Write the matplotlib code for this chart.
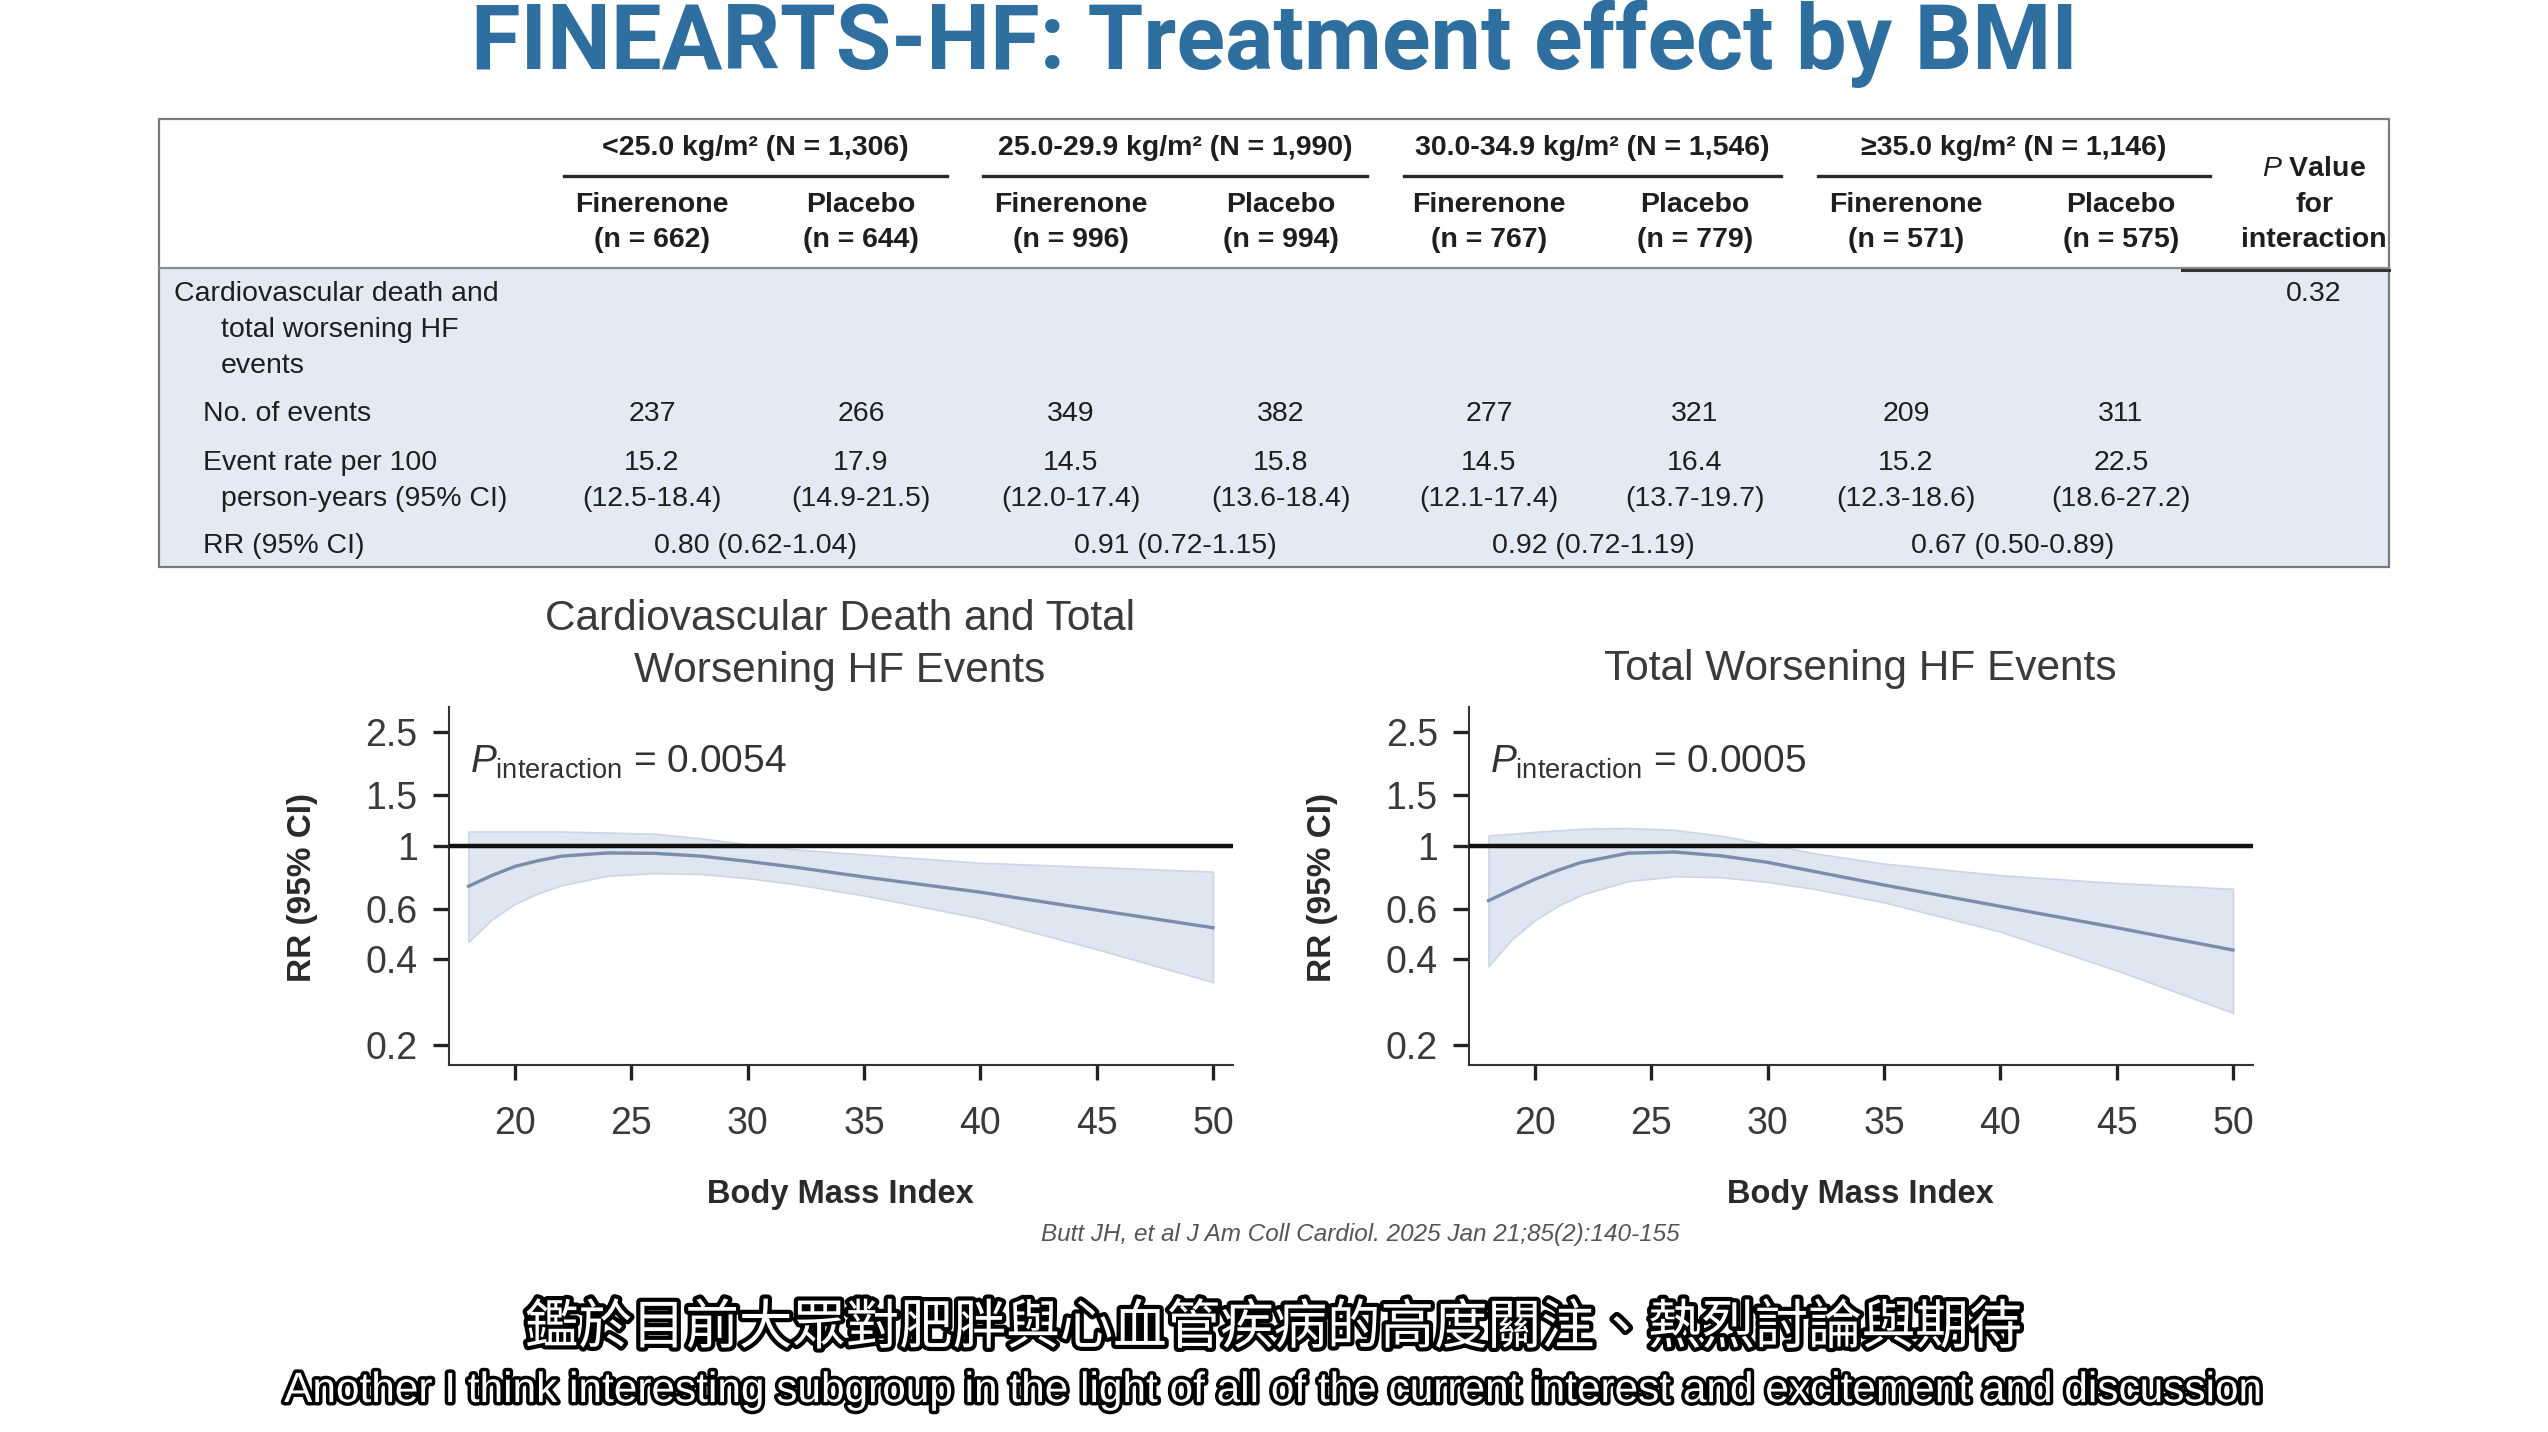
import matplotlib
matplotlib.use("Agg")
import matplotlib.pyplot as plt
import matplotlib.patheffects as pe
from matplotlib import font_manager
from matplotlib.patches import Rectangle

W, H = 2548, 1432

fonts = {f.name for f in font_manager.fontManager.ttflist}
NARROW = 'Liberation Sans Narrow' if 'Liberation Sans Narrow' in fonts else 'Liberation Sans'

plt.rcParams['font.family'] = [NARROW, 'DejaVu Sans']
plt.rcParams['mathtext.fontset'] = 'custom'
plt.rcParams['mathtext.rm'] = NARROW
plt.rcParams['mathtext.it'] = NARROW + ':italic'

# ---- table data ----
group_labels = ['<25.0 kg/m² (N = 1,306)', '25.0-29.9 kg/m² (N = 1,990)',
                '30.0-34.9 kg/m² (N = 1,546)', '≥35.0 kg/m² (N = 1,146)']
arm_names = ['Finerenone', 'Placebo'] * 4
arm_n = [662, 644, 996, 994, 767, 779, 571, 575]
n_events = [237, 266, 349, 382, 277, 321, 209, 311]
event_rate = [15.2, 17.9, 14.5, 15.8, 14.5, 16.4, 15.2, 22.5]
rate_ci = ['12.5-18.4', '14.9-21.5', '12.0-17.4', '13.6-18.4',
           '12.1-17.4', '13.7-19.7', '12.3-18.6', '18.6-27.2']
rr_ci = ['0.80 (0.62-1.04)', '0.91 (0.72-1.15)', '0.92 (0.72-1.19)', '0.67 (0.50-0.89)']
p_table = '0.32'

# ---- spline curves (RR vs BMI) ----
bmi = [18, 19, 20, 21, 22, 24, 26, 28, 30, 32, 35, 40, 45, 50]
cv_rr = [0.72, 0.785, 0.845, 0.885, 0.918, 0.942, 0.939, 0.918, 0.88, 0.84, 0.776, 0.686, 0.594, 0.515]
cv_hi = [1.12, 1.12, 1.12, 1.12, 1.12, 1.11, 1.10, 1.06, 1.01, 0.97, 0.93, 0.87, 0.84, 0.81]
cv_lo = [0.46, 0.55, 0.625, 0.68, 0.726, 0.784, 0.80, 0.795, 0.768, 0.733, 0.668, 0.556, 0.433, 0.332]
hf_rr = [0.641, 0.70, 0.762, 0.82, 0.873, 0.94, 0.949, 0.92, 0.873, 0.811, 0.727, 0.612, 0.515, 0.43]
hf_hi = [1.086, 1.10, 1.117, 1.13, 1.145, 1.152, 1.135, 1.082, 1.01, 0.94, 0.864, 0.787, 0.739, 0.705]
hf_lo = [0.377, 0.469, 0.548, 0.615, 0.673, 0.75, 0.78, 0.774, 0.745, 0.705, 0.632, 0.499, 0.365, 0.259]
p_interaction = ['0.0054', '0.0005']
panel_titles = ['Cardiovascular Death and Total\nWorsening HF Events', 'Total Worsening HF Events']
y_ticks = [0.2, 0.4, 0.6, 1, 1.5, 2.5]
y_ticklabels = ['0.2', '0.4', '0.6', '1', '1.5', '2.5']
x_ticks = [20, 25, 30, 35, 40, 45, 50]

fig = plt.figure(figsize=(W / 100, H / 100), dpi=100)
bg = fig.add_axes([0, 0, 1, 1])
bg.set_xlim(0, W)
bg.set_ylim(H, 0)
bg.axis('off')

# title
bg.text(1274, 44, 'FINEARTS-HF: Treatment effect by BMI', ha='center', va='center',
        fontsize=65, fontweight='bold', color='#2f6fa0', family=['Roboto', 'DejaVu Sans'])

# ---- table ----
tx0, tx1, ty0, ty_sep, ty1 = 159, 2389, 119, 268, 567
bg.add_patch(Rectangle((tx0, ty_sep), tx1 - tx0, ty1 - ty_sep, facecolor='#e3eaf4', edgecolor='none'))
bg.add_patch(Rectangle((tx0, ty0), tx1 - tx0, ty1 - ty0, facecolor='none', edgecolor='#7a7a7a', lw=1.6))
bg.plot([tx0, tx1], [ty_sep, ty_sep], color='#8a8a8a', lw=1.6)
bg.plot([2182, tx1], [ty_sep + 2, ty_sep + 2], color='#333333', lw=2.2)

col_x = [652, 861, 1071, 1281, 1489, 1695, 1906, 2121]
grp_x = [756, 1175, 1593, 2013]
grp_span = [(564, 947), (983, 1367), (1404, 1781), (1818, 2210)]
p_x = 2314
tcol = '#1e1e1e'
fs = 20.5

for gx, (a, b), lab in zip(grp_x, grp_span, group_labels):
    bg.text((a + b) / 2, 148, lab, ha='center', va='center', fontsize=fs, fontweight='bold', color=tcol)
    bg.plot([a, b], [176, 176], color='#2a2a2a', lw=2.4)

for cx, name, n in zip(col_x, arm_names, arm_n):
    bg.text(cx, 205, name, ha='center', va='center', fontsize=fs, fontweight='bold', color=tcol)
    bg.text(cx, 240, f'(n = {n})', ha='center', va='center', fontsize=fs, fontweight='bold', color=tcol)

bg.text(p_x, 169, r'$\mathit{P}$ Value', ha='center', va='center', fontsize=fs, fontweight='bold', color=tcol)
bg.text(p_x, 205, 'for', ha='center', va='center', fontsize=fs, fontweight='bold', color=tcol)
bg.text(p_x, 240, 'interaction', ha='center', va='center', fontsize=fs, fontweight='bold', color=tcol)

bg.text(174, 294, 'Cardiovascular death and', ha='left', va='center', fontsize=fs, color=tcol)
bg.text(221, 330, 'total worsening HF', ha='left', va='center', fontsize=fs, color=tcol)
bg.text(221, 366, 'events', ha='left', va='center', fontsize=fs, color=tcol)
bg.text(p_x, 294, p_table, ha='center', va='center', fontsize=fs, color=tcol)
bg.text(203, 414, 'No. of events', ha='left', va='center', fontsize=fs, color=tcol)
bg.text(203, 463, 'Event rate per 100', ha='left', va='center', fontsize=fs, color=tcol)
bg.text(221, 499, 'person-years (95% CI)', ha='left', va='center', fontsize=fs, color=tcol)
bg.text(203, 546, 'RR (95% CI)', ha='left', va='center', fontsize=fs, color=tcol)

for cx, ne, er, ci in zip(col_x, n_events, event_rate, rate_ci):
    bg.text(cx, 414, str(ne), ha='center', va='center', fontsize=fs, color=tcol)
    bg.text(cx, 463, f'{er:.1f}', ha='center', va='center', fontsize=fs, color=tcol)
    bg.text(cx, 499, f'({ci})', ha='center', va='center', fontsize=fs, color=tcol)
for gx, r in zip(grp_x, rr_ci):
    bg.text(gx, 546, r, ha='center', va='center', fontsize=fs, color=tcol)

# ---- spline panels ----
panels = [(449, cv_rr, cv_lo, cv_hi), (1469, hf_rr, hf_lo, hf_hi)]
ax_top, ax_bot, ax_w = 707, 1065, 784
for i, (x0, mid, lo, hi) in enumerate(panels):
    ax = fig.add_axes([x0 / W, 1 - ax_bot / H, ax_w / W, (ax_bot - ax_top) / H])
    ax.set_facecolor('none')
    ax.fill_between(bmi, lo, hi, facecolor='#dfe5f1', edgecolor='#cdd5e4', lw=1.2, zorder=1)
    ax.plot(bmi, mid, color='#7a8daa', lw=2.4, zorder=2)
    ax.axhline(1, color='#111111', lw=3.2, zorder=3)
    ax.set_yscale('log')
    ax.set_ylim(0.17, 3.06)
    ax.set_xlim(17.16, 50.86)
    ax.set_yticks(y_ticks)
    ax.set_yticklabels(y_ticklabels)
    ax.minorticks_off()
    ax.set_xticks(x_ticks)
    for s in ['top', 'right']:
        ax.spines[s].set_visible(False)
    for s in ['left', 'bottom']:
        ax.spines[s].set_linewidth(1.5)
        ax.spines[s].set_color('#333333')
    ax.tick_params(axis='y', length=11.5, width=2.4, pad=11, labelsize=27, labelcolor='#3a3a3a', color='#222222')
    ax.tick_params(axis='x', length=10.5, width=2.4, pad=19, labelsize=27, labelcolor='#3a3a3a', color='#222222')
    ax.text(18.06, 1.95, r'$\mathit{P}_{\mathrm{interaction}}$ = ' + p_interaction[i], ha='left', va='center',
            fontsize=28, color='#333333')

    cx = x0 + 391
    bg.text(cx, 1194, 'Body Mass Index', ha='center', va='center', fontsize=23.5, fontweight='bold', color='#2a2a2a')
    bg.text(x0 - 147, 887, 'RR (95% CI)', ha='center', va='center', rotation=90, fontsize=24,
            fontweight='bold', color='#2a2a2a', family=['Liberation Sans', 'DejaVu Sans'])
    bg.text(cx, 645 if i == 0 else 669, panel_titles[i], ha='center', va='center', fontsize=30.5,
            color='#3a3a3a', linespacing=1.38)

bg.text(1360, 1234, 'Butt JH, et al J Am Coll Cardiol. 2025 Jan 21;85(2):140-155', ha='center', va='center',
        fontsize=17.5, style='italic', color='#555555')

# ---- subtitles ----
bg.text(1274, 1328, '鑑於目前大眾對肥胖與心血管疾病的高度關注、熱烈討論與期待', ha='center', va='center',
        fontsize=38.5, color='white', family=['Noto Sans CJK TC', 'DejaVu Sans'],
        path_effects=[pe.withStroke(linewidth=6, foreground='black')])
bg.text(1273, 1391, 'Another I think interesting subgroup in the light of all of the current interest and excitement and discussion',
        ha='center', va='center', fontsize=30.5, color='white', family=[NARROW, 'DejaVu Sans'],
        path_effects=[pe.withStroke(linewidth=5, foreground='black')])

fig.savefig('out.png', dpi=100)
